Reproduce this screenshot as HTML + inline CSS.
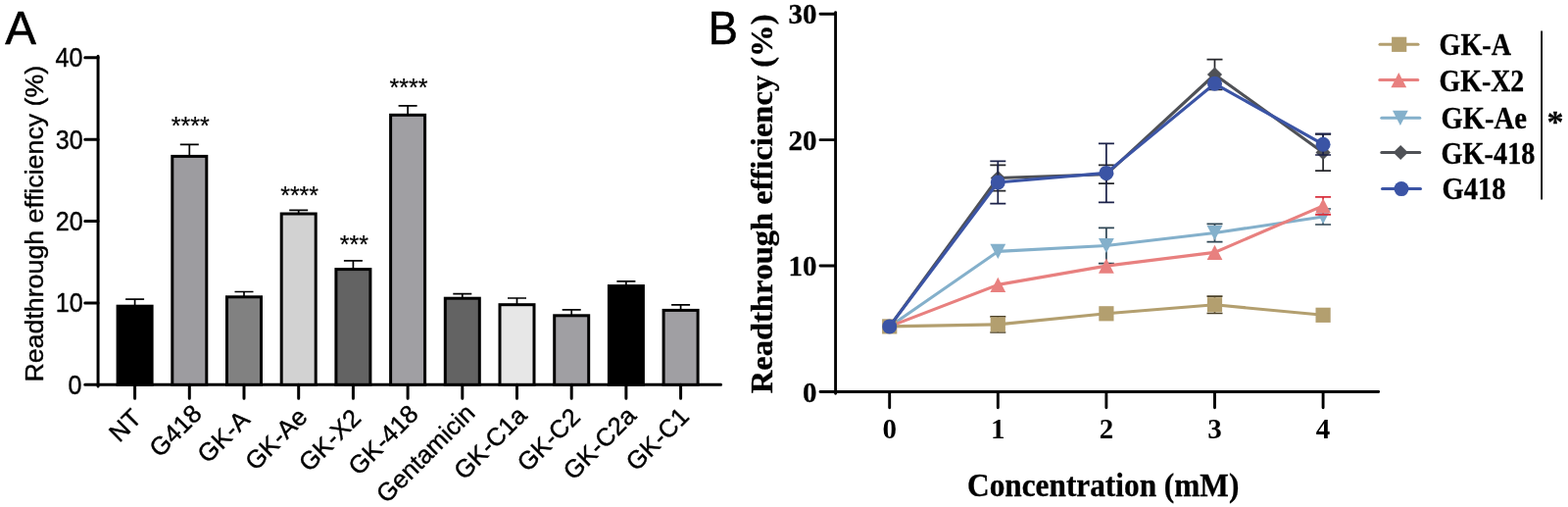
<!DOCTYPE html>
<html lang="en"><head><meta charset="utf-8"><title>Readthrough efficiency</title>
<style>html,body{margin:0;padding:0;background:#fff}body{width:1600px;height:517px;overflow:hidden}svg{display:block}text{font-variant-ligatures:none;font-kerning:none}.s{font-family:"Liberation Sans",Arial,Helvetica,sans-serif;fill:#000}.t{font-family:"Liberation Serif","Times New Roman",Times,serif;font-weight:bold;fill:#000}.ax{stroke:#000;fill:none;stroke-linecap:round}</style></head><body>
<svg width="1600" height="517" viewBox="0 0 1600 517">
<rect width="1600" height="517" fill="#fff"/>
<g id="panelA">
<text class="s" font-size="47.5" stroke="#000" stroke-width="0.6" stroke-linejoin="round" transform="translate(5.3,45) scale(1,1.03)">A</text>
<text class="s" font-size="26.0" text-anchor="middle" stroke="#000" stroke-width="0.4" stroke-linejoin="round" transform="translate(44.3,228.2) scale(1,1.03) rotate(-90)">Readthrough efficiency (%)</text>
<path class="ax" stroke-width="3.0" d="M100.05 57.3V394.1M86.75 392.3H735.6"/>
<path class="ax" stroke-width="3.0" d="M86.75 308.93H100.05M86.75 225.55H100.05M86.75 142.18H100.05M86.75 58.8H100.05"/>
<text class="s" font-size="26.0" text-anchor="end" stroke="#000" stroke-width="0.4" stroke-linejoin="round" transform="translate(83.4,401.8) scale(0.965,1.07)">0</text>
<text class="s" font-size="26.0" text-anchor="end" stroke="#000" stroke-width="0.4" stroke-linejoin="round" transform="translate(84.6,318.43) scale(0.965,1.07)">10</text>
<text class="s" font-size="26.0" text-anchor="end" stroke="#000" stroke-width="0.4" stroke-linejoin="round" transform="translate(84.6,235.05) scale(0.965,1.07)">20</text>
<text class="s" font-size="26.0" text-anchor="end" stroke="#000" stroke-width="0.4" stroke-linejoin="round" transform="translate(84.6,151.68) scale(0.965,1.07)">30</text>
<text class="s" font-size="26.0" text-anchor="end" stroke="#000" stroke-width="0.4" stroke-linejoin="round" transform="translate(84.4,68.3) scale(0.965,1.07)">40</text>
<path d="M137.6 311.7V305.2M128.1 305.2H147.1" stroke="#000" stroke-width="1.7" fill="none"/>
<rect x="120.1" y="312.2" width="35" height="80.1" fill="#000" stroke="#000" stroke-width="3"/>
<path d="M193.3 158.9V147.4M183.8 147.4H202.8" stroke="#000" stroke-width="1.7" fill="none"/>
<rect x="175.8" y="159.4" width="35" height="232.9" fill="#9d9ca0" stroke="#000" stroke-width="3"/>
<path d="M249 302.3V297.5M239.5 297.5H258.5" stroke="#000" stroke-width="1.7" fill="none"/>
<rect x="231.5" y="302.8" width="35" height="89.5" fill="#818181" stroke="#000" stroke-width="3"/>
<path d="M304.7 217.5V214.3M295.2 214.3H314.2" stroke="#000" stroke-width="1.7" fill="none"/>
<rect x="287.2" y="218" width="35" height="174.3" fill="#d2d2d2" stroke="#000" stroke-width="3"/>
<path d="M360.4 274.1V265.8M350.9 265.8H369.9" stroke="#000" stroke-width="1.7" fill="none"/>
<rect x="342.9" y="274.6" width="35" height="117.7" fill="#636363" stroke="#000" stroke-width="3"/>
<path d="M416.1 116.8V107.8M406.6 107.8H425.6" stroke="#000" stroke-width="1.7" fill="none"/>
<rect x="398.6" y="117.3" width="35" height="275" fill="#a09fa3" stroke="#000" stroke-width="3"/>
<path d="M471.8 303.7V299.7M462.3 299.7H481.3" stroke="#000" stroke-width="1.7" fill="none"/>
<rect x="454.3" y="304.2" width="35" height="88.1" fill="#636363" stroke="#000" stroke-width="3"/>
<path d="M527.5 310.2V304M518 304H537" stroke="#000" stroke-width="1.7" fill="none"/>
<rect x="510" y="310.7" width="35" height="81.6" fill="#e7e7e7" stroke="#000" stroke-width="3"/>
<path d="M583.2 321.3V315.8M573.7 315.8H592.7" stroke="#000" stroke-width="1.7" fill="none"/>
<rect x="565.7" y="321.8" width="35" height="70.5" fill="#a09fa3" stroke="#000" stroke-width="3"/>
<path d="M638.9 291.1V286.9M629.4 286.9H648.4" stroke="#000" stroke-width="1.7" fill="none"/>
<rect x="621.4" y="291.6" width="35" height="100.7" fill="#000" stroke="#000" stroke-width="3"/>
<path d="M694.6 315.9V310.8M685.1 310.8H704.1" stroke="#000" stroke-width="1.7" fill="none"/>
<rect x="677.1" y="316.4" width="35" height="75.9" fill="#a09fa3" stroke="#000" stroke-width="3"/>
<path class="ax" stroke-width="3.0" d="M137.6 392.3V406.3M193.3 392.3V406.3M249 392.3V406.3M304.7 392.3V406.3M360.4 392.3V406.3M416.1 392.3V406.3M471.8 392.3V406.3M527.5 392.3V406.3M583.2 392.3V406.3M638.9 392.3V406.3M694.6 392.3V406.3"/>
<text class="s" font-size="25.6" text-anchor="end" stroke="#000" stroke-width="0.4" stroke-linejoin="round" transform="translate(145.9,427.8) rotate(-45)">NT</text>
<text class="s" font-size="25.6" text-anchor="end" stroke="#000" stroke-width="0.4" stroke-linejoin="round" transform="translate(207.4,423.3) rotate(-45)">G418</text>
<text class="s" font-size="25.0" text-anchor="middle" stroke="#000" stroke-width="0.2" stroke-linejoin="round" transform="translate(194.2,136.6)">****</text>
<text class="s" font-size="25.6" text-anchor="end" stroke="#000" stroke-width="0.4" stroke-linejoin="round" transform="translate(256.3,429.3) rotate(-45)">GK-A</text>
<text class="s" font-size="25.6" text-anchor="end" stroke="#000" stroke-width="0.4" stroke-linejoin="round" transform="translate(315,426.7) rotate(-45)">GK-Ae</text>
<text class="s" font-size="25.0" text-anchor="middle" stroke="#000" stroke-width="0.2" stroke-linejoin="round" transform="translate(305.6,207.7)">****</text>
<text class="s" font-size="25.6" text-anchor="end" stroke="#000" stroke-width="0.4" stroke-linejoin="round" transform="translate(369.7,427.9) rotate(-45)">GK-X2</text>
<text class="s" font-size="25.0" text-anchor="middle" stroke="#000" stroke-width="0.2" stroke-linejoin="round" transform="translate(361.3,257.6)">***</text>
<text class="s" font-size="25.6" text-anchor="end" stroke="#000" stroke-width="0.4" stroke-linejoin="round" transform="translate(428.4,423.6) rotate(-45)">GK-418</text>
<text class="s" font-size="25.0" text-anchor="middle" stroke="#000" stroke-width="0.2" stroke-linejoin="round" transform="translate(417,98.2)">****</text>
<text class="s" font-size="25.6" text-anchor="end" stroke="#000" stroke-width="0.4" stroke-linejoin="round" transform="translate(486.1,422.8) rotate(-45)">Gentamicin</text>
<text class="s" font-size="25.6" text-anchor="end" stroke="#000" stroke-width="0.4" stroke-linejoin="round" transform="translate(539,425.1) rotate(-45)">GK-C1a</text>
<text class="s" font-size="25.6" text-anchor="end" stroke="#000" stroke-width="0.4" stroke-linejoin="round" transform="translate(593.5,427) rotate(-45)">GK-C2</text>
<text class="s" font-size="25.6" text-anchor="end" stroke="#000" stroke-width="0.4" stroke-linejoin="round" transform="translate(650.6,425.4) rotate(-45)">GK-C2a</text>
<text class="s" font-size="25.6" text-anchor="end" stroke="#000" stroke-width="0.4" stroke-linejoin="round" transform="translate(704.6,426.3) rotate(-45)">GK-C1</text>
</g>
<g id="panelB">
<text class="s" font-size="47.5" stroke="#000" stroke-width="0.6" stroke-linejoin="round" transform="translate(722.8,45) scale(0.95,1.03)">B</text>
<text class="t" font-size="30.6" text-anchor="middle" stroke="#000" stroke-width="0.3" stroke-linejoin="round" transform="translate(788,207.9) scale(1,1.064) rotate(-90)">Readthrough efficiency (%)</text>
<path class="ax" stroke-width="2.9" d="M852.6 12.61V401.3M837 399.5H1406.7"/>
<path class="ax" stroke-width="2.9" d="M837 271.07H852.6M837 142.64H852.6M837 14.21H852.6M907.7 399.5V415.7M1018.3 399.5V415.7M1128.9 399.5V415.7M1239.5 399.5V415.7M1350.1 399.5V415.7"/>
<text class="t" font-size="29" text-anchor="end" stroke="#000" stroke-width="0.3" stroke-linejoin="round" transform="translate(833.4,409.6)">0</text>
<text class="t" font-size="29" text-anchor="end" stroke="#000" stroke-width="0.3" stroke-linejoin="round" transform="translate(833.4,281.17)">10</text>
<text class="t" font-size="29" text-anchor="end" stroke="#000" stroke-width="0.3" stroke-linejoin="round" transform="translate(833.4,152.74)">20</text>
<text class="t" font-size="29" text-anchor="end" stroke="#000" stroke-width="0.3" stroke-linejoin="round" transform="translate(833.4,24.31)">30</text>
<text class="t" font-size="29" text-anchor="middle" x="907.7" y="447.3">0</text>
<text class="t" font-size="29" text-anchor="middle" x="1018.3" y="447.3">1</text>
<text class="t" font-size="29" text-anchor="middle" x="1128.9" y="447.3">2</text>
<text class="t" font-size="29" text-anchor="middle" x="1239.5" y="447.3">3</text>
<text class="t" font-size="29" text-anchor="middle" x="1350.1" y="447.3">4</text>
<text class="t" font-size="31.3" text-anchor="middle" stroke="#000" stroke-width="0.3" stroke-linejoin="round" transform="translate(1125.7,505.7) scale(1,1.07)">Concentration (mM)</text>
<path d="M1128.9 232.3V268.7M1120.9 232.3H1136.9M1120.9 268.7H1136.9M1239.5 228.35V246.65M1231.5 228.35H1247.5M1231.5 246.65H1247.5M1350.1 213V229M1342.1 213H1358.1M1342.1 229H1358.1" stroke="#2f4654" stroke-width="1.7" fill="none"/>
<polyline points="907.7,332.9 1018.3,256.4 1128.9,250.5 1239.5,237.5 1350.1,221" fill="none" stroke="#84b0cb" stroke-width="3.1" stroke-linejoin="round"/>
<path d="M1018.3 264L1026.2 248.8H1010.4Z" fill="#84b0cb"/>
<path d="M1128.9 258.1L1136.8 242.9H1121Z" fill="#84b0cb"/>
<path d="M1239.5 245.1L1247.4 229.9H1231.6Z" fill="#84b0cb"/>
<path d="M1350.1 228.6L1358 213.4H1342.2Z" fill="#84b0cb"/>
<path d="M1350.1 200.8V218.8M1342.1 200.8H1358.1M1342.1 218.8H1358.1" stroke="#d8303e" stroke-width="1.7" fill="none"/>
<polyline points="907.7,332.9 1018.3,290.4 1128.9,271.1 1239.5,257.4 1350.1,209.8" fill="none" stroke="#e8807f" stroke-width="3.1" stroke-linejoin="round"/>
<path d="M1018.3 282.8L1026.2 298H1010.4Z" fill="#e8807f"/>
<path d="M1128.9 263.5L1136.8 278.7H1121Z" fill="#e8807f"/>
<path d="M1239.5 249.8L1247.4 265H1231.6Z" fill="#e8807f"/>
<path d="M1350.1 202.2L1358 217.4H1342.2Z" fill="#e8807f"/>
<path d="M1018.3 322.8V339M1010.3 322.8H1026.3M1010.3 339H1026.3M1239.5 302.1V319.5M1231.5 302.1H1247.5M1231.5 319.5H1247.5" stroke="#4a4028" stroke-width="1.7" fill="none"/>
<polyline points="907.7,332.9 1018.3,330.9 1128.9,319.8 1239.5,310.8 1350.1,321.3" fill="none" stroke="#b39f6f" stroke-width="3.1" stroke-linejoin="round"/>
<rect x="900.1" y="325.3" width="15.2" height="15.2" fill="#b39f6f"/>
<rect x="1010.7" y="323.3" width="15.2" height="15.2" fill="#b39f6f"/>
<rect x="1121.3" y="312.2" width="15.2" height="15.2" fill="#b39f6f"/>
<rect x="1231.9" y="303.2" width="15.2" height="15.2" fill="#b39f6f"/>
<rect x="1342.5" y="313.7" width="15.2" height="15.2" fill="#b39f6f"/>
<path d="M1018.3 168.4V194.6M1010.3 168.4H1026.3M1010.3 194.6H1026.3M1128.9 168.4V187.2M1120.9 168.4H1136.9M1120.9 187.2H1136.9M1239.5 60.7V91.3M1231.5 60.7H1247.5M1231.5 91.3H1247.5M1350.1 136.8V174.2M1342.1 136.8H1358.1M1342.1 174.2H1358.1" stroke="#26272b" stroke-width="1.7" fill="none"/>
<polyline points="907.7,332.9 1018.3,181.5 1128.9,177.8 1239.5,76 1350.1,155.5" fill="none" stroke="#4f5156" stroke-width="3.1" stroke-linejoin="round"/>
<path d="M1018.3 173.9L1025.9 181.5L1018.3 189.1L1010.7 181.5Z" fill="#4f5156"/>
<path d="M1128.9 170.2L1136.5 177.8L1128.9 185.4L1121.3 177.8Z" fill="#4f5156"/>
<path d="M1239.5 68.4L1247.1 76L1239.5 83.6L1231.9 76Z" fill="#4f5156"/>
<path d="M1350.1 147.9L1357.7 155.5L1350.1 163.1L1342.5 155.5Z" fill="#4f5156"/>
<path d="M1018.3 164.4V207.6M1010.3 164.4H1026.3M1010.3 207.6H1026.3M1128.9 146.4V206.4M1120.9 146.4H1136.9M1120.9 206.4H1136.9M1350.1 136.4V158M1342.1 136.4H1358.1M1342.1 158H1358.1" stroke="#1b2148" stroke-width="1.7" fill="none"/>
<polyline points="907.7,332.9 1018.3,186 1128.9,176.4 1239.5,85.3 1350.1,147.2" fill="none" stroke="#3b54a5" stroke-width="3.1" stroke-linejoin="round"/>
<circle cx="907.7" cy="332.9" r="7.5" fill="#3b54a5"/>
<circle cx="1018.3" cy="186" r="7.5" fill="#3b54a5"/>
<circle cx="1128.9" cy="176.4" r="7.5" fill="#3b54a5"/>
<circle cx="1239.5" cy="85.3" r="7.5" fill="#3b54a5"/>
<circle cx="1350.1" cy="147.2" r="7.5" fill="#3b54a5"/>
<path d="M1408 45.3H1447" stroke="#b39f6f" stroke-width="3" stroke-linecap="round"/>
<rect x="1420.1" y="37.7" width="15.2" height="15.2" fill="#b39f6f"/>
<text class="t" font-size="30" stroke="#000" stroke-width="0.3" stroke-linejoin="round" transform="translate(1468.6,55.6) scale(0.937,1.035)">GK-A</text>
<path d="M1407.8 81.6H1446.8" stroke="#e8807f" stroke-width="3" stroke-linecap="round"/>
<path d="M1427.3 74L1435.2 89.2H1419.4Z" fill="#e8807f"/>
<text class="t" font-size="30" stroke="#000" stroke-width="0.3" stroke-linejoin="round" transform="translate(1468.6,92.6) scale(0.928,1.035)">GK-X2</text>
<path d="M1409.8 120.3H1448.8" stroke="#84b0cb" stroke-width="3" stroke-linecap="round"/>
<path d="M1428.9 127.9L1436.8 112.7H1421Z" fill="#84b0cb"/>
<text class="t" font-size="30" stroke="#000" stroke-width="0.3" stroke-linejoin="round" transform="translate(1470.6,131.2) scale(0.953,1.035)">GK-Ae</text>
<path d="M1409.8 155.5H1448.8" stroke="#4f5156" stroke-width="3" stroke-linecap="round"/>
<path d="M1429.2 147.9L1436.8 155.5L1429.2 163.1L1421.6 155.5Z" fill="#4f5156"/>
<text class="t" font-size="30" stroke="#000" stroke-width="0.3" stroke-linejoin="round" transform="translate(1470.6,166.5) scale(0.943,1.035)">GK-418</text>
<path d="M1410.5 192.6H1449.5" stroke="#3b54a5" stroke-width="3" stroke-linecap="round"/>
<circle cx="1430" cy="192.6" r="7.5" fill="#3b54a5"/>
<text class="t" font-size="30" stroke="#000" stroke-width="0.3" stroke-linejoin="round" transform="translate(1471.6,202.7) scale(0.952,1.035)">G418</text>
<path d="M1573.1 31.5V203.5" stroke="#000" stroke-width="1.8"/>
<text class="t" font-size="35" text-anchor="middle" stroke="#000" stroke-width="0.3" stroke-linejoin="round" transform="translate(1586.9,134.6) scale(0.97,0.9)">*</text>
</g>
</svg></body></html>
